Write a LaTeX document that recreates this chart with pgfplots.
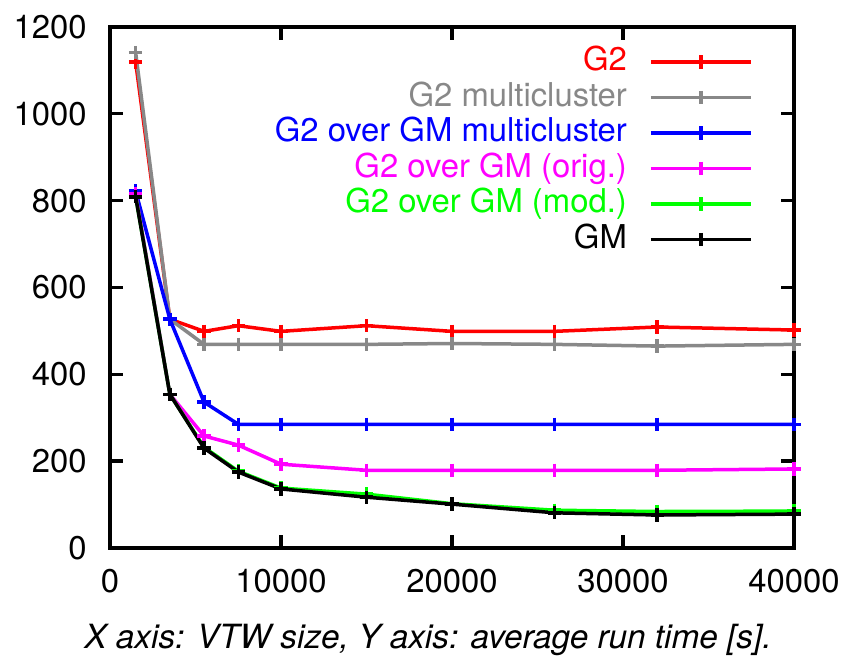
\documentclass[border=0pt]{standalone}
\usepackage{pgfplots}
\pgfplotsset{compat=1.18}
\usepackage{fontspec}
\setmainfont{TeX Gyre Heros}
\definecolor{cgrey}{RGB}{136,136,136}
\definecolor{cgreen}{RGB}{0,255,0}
\definecolor{cmag}{RGB}{255,0,255}
\begin{document}
\fontsize{9.85bp}{12bp}\selectfont
\begin{tikzpicture}
\begin{axis}[
  name=ax,
  scale only axis,
  width=205.2bp, height=156.3bp,
  xmin=0, xmax=40000, ymin=0, ymax=1200,
  xtick={0,10000,20000,30000,40000},
  ytick={0,200,400,600,800,1000,1200},
  scaled x ticks=false,
  /pgf/number format/1000 sep={},
  /pgf/number format/assume math mode=true,
  tick align=inside,
  major tick length=4bp,
  axis line style={line width=1bp},
  every tick/.style={line width=1bp, black},
  tick label style={font=\fontsize{9.85bp}{12bp}\selectfont},
  yticklabel style={xshift=-3.5bp},
  xticklabel style={yshift=-3bp},
  clip=false,
  xlabel={\itshape X axis: VTW size, Y axis: average run time [s].},
  xlabel style={at={(axis description cs:0.465,-0.192)}, anchor=base, font=\fontsize{10bp}{12bp}\selectfont},
  every axis plot/.append style={line width=1.05bp, mark=+, mark size=2bp, mark options={line width=1.05bp}},
  legend plot pos=right,
  legend cell align=right,
  legend image code/.code={\draw[mark repeat=2,mark phase=2] plot coordinates {(0bp,0bp) (15bp,0bp) (30bp,0bp)};},
  legend style={at={(axis description cs:0.9396,0.9668)}, anchor=north east, draw=none, fill=none,
    inner sep=0pt, outer sep=0pt, row sep=0pt, column sep=6.2bp,
    font=\fontsize{9.85bp}{12bp}\selectfont,
    nodes={inner sep=0.5bp, text height=7.5bp, text depth=2.15bp}},
]
\addplot[color=red] coordinates {(1500,1119) (3500,527) (5500,499) (7500,512) (10000,499) (15000,512) (20000,499) (26000,499) (32000,509) (40000,502)};
\addlegendentry{\textcolor{red}{G2}}
\addplot[color=cgrey] coordinates {(1500,1141) (3500,527) (5500,469) (7500,469) (10000,469) (15000,469) (20000,471) (26000,469) (32000,465) (40000,469)};
\addlegendentry{\textcolor{cgrey}{G2 multicluster}}
\addplot[color=blue] coordinates {(1500,822) (3500,527) (5500,336) (7500,285) (10000,285) (15000,285) (20000,285) (26000,285) (32000,285) (40000,285)};
\addlegendentry{\textcolor{blue}{G2 over GM multicluster}}
\addplot[color=cmag] coordinates {(1500,815) (3500,354) (5500,258) (7500,237) (10000,193) (15000,179) (20000,179) (26000,179) (32000,179) (40000,182)};
\addlegendentry{\textcolor{cmag}{G2 over GM (orig.)}}
\addplot[color=cgreen] coordinates {(1500,810) (3500,354) (5500,232) (7500,177) (10000,138) (15000,124) (20000,102) (26000,87) (32000,84) (40000,85)};
\addlegendentry{\textcolor{cgreen}{G2 over GM (mod.)}}
\addplot[color=black] coordinates {(1500,809) (3500,354) (5500,230) (7500,175) (10000,136) (15000,117) (20000,101) (26000,81) (32000,76) (40000,78)};
\addlegendentry{\textcolor{black}{GM}}
\end{axis}
\path (ax.south west) ++(-33bp,-33.6bp) rectangle ++(256.2bp,198bp);
\end{tikzpicture}
\end{document}
